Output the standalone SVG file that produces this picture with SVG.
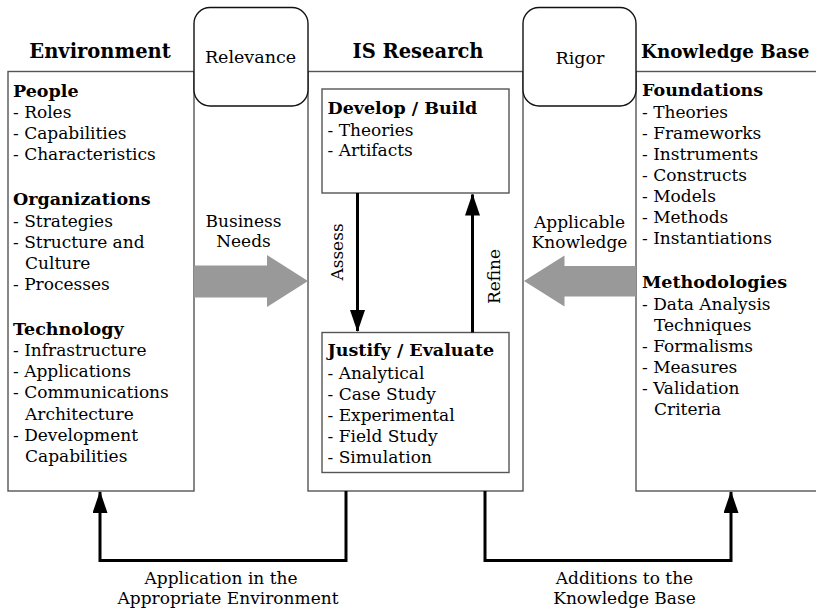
<svg xmlns="http://www.w3.org/2000/svg" width="816" height="609" viewBox="0 0 816 609">
  <style>
    text { font-family: "DejaVu Serif", "Liberation Serif", serif; fill: #000; }
    .h { font-size: 19.5px; font-weight: bold; }
    .t { font-size: 17.5px; font-weight: bold; }
    .r { font-size: 17px; }
    .m { text-anchor: middle; }
    .box { fill: #fff; stroke: #555; stroke-width: 1.4; }
    .cycle { fill: #fff; stroke: #111; stroke-width: 1.4; }
    .flow { fill: none; stroke: #000; stroke-width: 3; }
    .big { fill: #999; stroke: none; }
  </style>
  <defs>
    <marker id="head" viewBox="0 0 22 15" refX="21" refY="7.5" markerWidth="22" markerHeight="15" markerUnits="userSpaceOnUse" orient="auto">
      <path d="M0,0 L22,7.5 L0,15 Z" fill="#000"/>
    </marker>
  </defs>

  <!-- Environment column -->
  <g id="environment">
    <rect class="box" x="8" y="71.5" width="186" height="419.5"/>
    <text class="h m" x="100" y="58">Environment</text>
    <text class="t" x="13" y="97">People</text>
    <text class="r" x="13" y="118">- Roles</text>
    <text class="r" x="13" y="139">- Capabilities</text>
    <text class="r" x="13" y="160">- Characteristics</text>
    <text class="t" x="13" y="205">Organizations</text>
    <text class="r" x="13" y="227">- Strategies</text>
    <text class="r" x="13" y="248">- Structure and</text>
    <text class="r" x="25" y="269">Culture</text>
    <text class="r" x="13" y="290">- Processes</text>
    <text class="t" x="13" y="335">Technology</text>
    <text class="r" x="13" y="356">- Infrastructure</text>
    <text class="r" x="13" y="377">- Applications</text>
    <text class="r" x="13" y="398">- Communications</text>
    <text class="r" x="25" y="420">Architecture</text>
    <text class="r" x="13" y="441">- Development</text>
    <text class="r" x="25" y="462">Capabilities</text>
  </g>

  <!-- IS Research column -->
  <g id="is-research">
    <rect class="box" x="308" y="71.5" width="215" height="419.5"/>
    <text class="h m" x="418" y="58">IS Research</text>
  </g>

  <g id="develop-build">
    <rect class="box" x="322" y="89" width="187" height="104"/>
    <text class="t" x="327.5" y="113.5">Develop / Build</text>
    <text class="r" x="327.5" y="135.5">- Theories</text>
    <text class="r" x="327.5" y="156">- Artifacts</text>
  </g>

  <g id="justify-evaluate">
    <rect class="box" x="322" y="332.5" width="187" height="140"/>
    <text class="t" x="327.5" y="356">Justify / Evaluate</text>
    <text class="r" x="327.5" y="379">- Analytical</text>
    <text class="r" x="327.5" y="400">- Case Study</text>
    <text class="r" x="327.5" y="421">- Experimental</text>
    <text class="r" x="327.5" y="442">- Field Study</text>
    <text class="r" x="327.5" y="463">- Simulation</text>
  </g>

  <!-- Knowledge Base column -->
  <g id="knowledge-base">
    <rect class="box" x="636" y="71.5" width="190" height="419.5"/>
    <text class="h" x="641" y="58" style="font-size:18.3px">Knowledge Base</text>
    <text class="t" x="642" y="96">Foundations</text>
    <text class="r" x="642" y="118">- Theories</text>
    <text class="r" x="642" y="139">- Frameworks</text>
    <text class="r" x="642" y="160">- Instruments</text>
    <text class="r" x="642" y="181">- Constructs</text>
    <text class="r" x="642" y="202">- Models</text>
    <text class="r" x="642" y="223">- Methods</text>
    <text class="r" x="642" y="244">- Instantiations</text>
    <text class="t" x="642" y="288">Methodologies</text>
    <text class="r" x="642" y="310">- Data Analysis</text>
    <text class="r" x="654" y="331">Techniques</text>
    <text class="r" x="642" y="352">- Formalisms</text>
    <text class="r" x="642" y="373">- Measures</text>
    <text class="r" x="642" y="394">- Validation</text>
    <text class="r" x="654" y="415">Criteria</text>
  </g>

  <!-- Relevance and Rigor cycles -->
  <g id="relevance">
    <rect class="cycle" x="194" y="7.5" width="114" height="98.5" rx="16" ry="16"/>
    <text class="r m" x="250.5" y="63" style="font-size:17.5px">Relevance</text>
  </g>
  <g id="rigor">
    <rect class="cycle" x="523" y="7.5" width="113" height="98.5" rx="16" ry="16"/>
    <text class="r m" x="580" y="64" style="font-size:17.5px">Rigor</text>
  </g>

  <!-- Connectors -->
  <g id="connectors">
    <!-- Business Needs -->
    <path class="big" d="M194,265.5 L267,265.5 L267,255 L308,281 L267,307 L267,297.5 L194,297.5 Z"/>
    <text class="r m" x="243.5" y="227">Business</text>
    <text class="r m" x="243.5" y="247">Needs</text>

    <!-- Applicable Knowledge -->
    <path class="big" d="M636,266 L564.5,266 L564.5,255.5 L524,281 L564.5,306.5 L564.5,296.5 L636,296.5 Z"/>
    <text class="r m" x="579.5" y="227.5">Applicable</text>
    <text class="r m" x="579.5" y="247.5">Knowledge</text>

    <!-- Assess / Refine -->
    <line class="flow" x1="357.5" y1="193" x2="357.5" y2="331" marker-end="url(#head)"/>
    <text class="r m" transform="translate(342.5,252) rotate(-90)">Assess</text>
    <line class="flow" x1="472.5" y1="332.5" x2="472.5" y2="194.5" marker-end="url(#head)"/>
    <text class="r m" transform="translate(500,276.5) rotate(-90)">Refine</text>

    <!-- Application in the Appropriate Environment -->
    <path class="flow" d="M346,491 L346,560.5 L100,560.5 L100,492" marker-end="url(#head)"/>
    <text class="r m" x="221" y="583.5">Application in the</text>
    <text class="r m" x="228" y="603.5">Appropriate Environment</text>

    <!-- Additions to the Knowledge Base -->
    <path class="flow" d="M485,491 L485,560.5 L731,560.5 L731,492" marker-end="url(#head)"/>
    <text class="r m" x="624.5" y="583.5">Additions to the</text>
    <text class="r m" x="624.5" y="603.5">Knowledge Base</text>
  </g>
</svg>
